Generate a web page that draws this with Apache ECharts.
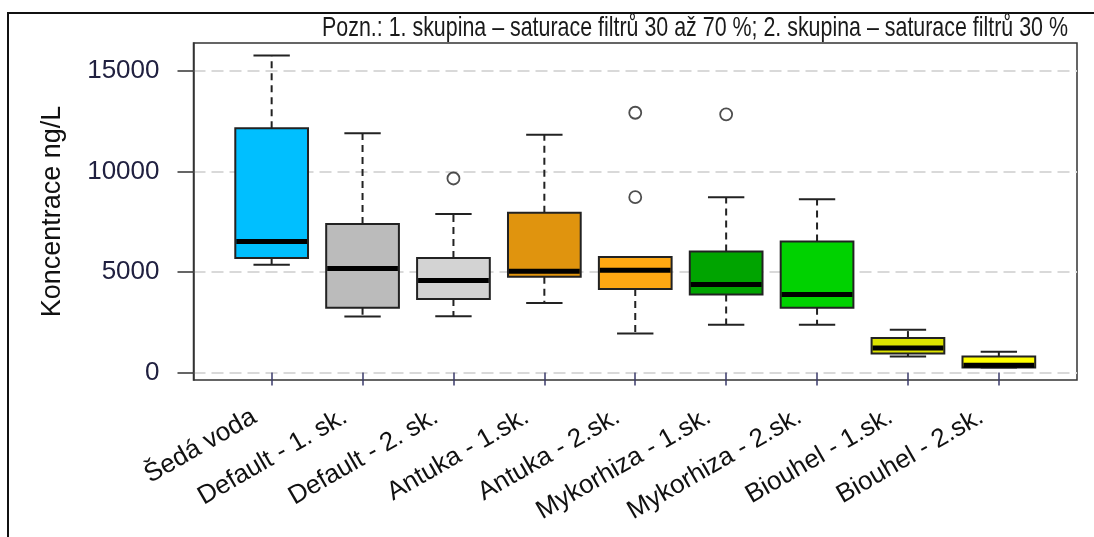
<!DOCTYPE html>
<html><head><meta charset="utf-8">
<script src="https://cdn.jsdelivr.net/npm/echarts@6/dist/echarts.min.js"></script>
<style>html,body{margin:0;padding:0;background:#fff}#c{width:1094px;height:537px}</style>
</head><body><div id="c"></div>
<script>
// ---- data ----
const categories = ['Šedá voda', 'Default - 1. sk.', 'Default - 2. sk.', 'Antuka - 1.sk.', 'Antuka - 2.sk.', 'Mykorhiza - 1.sk.', 'Mykorhiza - 2.sk.', 'Biouhel - 1.sk.', 'Biouhel - 2.sk.'];
const whiskerLow  = [5360, 2790, 2800, 3450, 1940, 2370, 2370, 790, 250];
const q1          = [5690, 3220, 3650, 4760, 4150, 3880, 3220, 940, 250];
const median      = [6520, 5170, 4580, 5030, 5090, 4380, 3880, 1220, 360];
const q3          = [12150, 7380, 5690, 7950, 5740, 6020, 6520, 1710, 800];
const whiskerHigh = [15770, 11900, 7880, 11830, 5740, 8720, 8620, 2120, 1030];
const outlierCategory = [2, 4, 4, 5];
const outlierValue    = [9650, 12920, 8720, 12840];
const yTicks = [0, 5000, 10000, 15000];
const yTitle = 'Koncentrace ng/L';
const note = 'Pozn.: 1. skupina – saturace filtrů 30 až 70 %; 2. skupina – saturace filtrů 30 %';

// ---- styles ----
const boxColors = ['#00BFFF', '#BBBBBB', '#D3D3D3', '#E0940E', '#FFA812', '#00A400', '#00D200', '#DCE300', '#FFFF00'];
const FONT = '"Liberation Sans", Arial, sans-serif';
const Y_MIN = -375, Y_MAX = 16390;

const chart = echarts.init(document.getElementById('c'), null, {renderer: 'canvas'});

const ctx = document.createElement('canvas').getContext('2d');
ctx.font = '28px "Liberation Sans"';
const noteScale = 746 / ctx.measureText(note).width;

function renderBox(params, api) {
  const i = api.value(0);
  const lo = api.coord([i, api.value(1)]);
  const b1 = api.coord([i, api.value(2)]);
  const md = api.coord([i, api.value(3)]);
  const b3 = api.coord([i, api.value(4)]);
  const hi = api.coord([i, api.value(5)]);
  const band = api.size([1, 0])[0];
  const w = band * 0.8, cw = band * 0.4;
  const x = lo[0];
  const dash = {stroke: '#222', lineWidth: 2, lineDash: [7, 5]};
  const solid = {stroke: '#222', lineWidth: 2};
  return {type: 'group', children: [
    {type: 'line', shape: {x1: x, y1: b3[1], x2: x, y2: hi[1]}, style: dash},
    {type: 'line', shape: {x1: x, y1: b1[1], x2: x, y2: lo[1]}, style: dash},
    {type: 'line', shape: {x1: x - cw / 2, y1: hi[1], x2: x + cw / 2, y2: hi[1]}, style: solid},
    {type: 'line', shape: {x1: x - cw / 2, y1: lo[1], x2: x + cw / 2, y2: lo[1]}, style: solid},
    {type: 'rect', shape: {x: x - w / 2, y: b3[1], width: w, height: b1[1] - b3[1]},
     style: {fill: boxColors[i], stroke: '#222', lineWidth: 2}},
    {type: 'line', shape: {x1: x - w / 2 + 1, y1: md[1], x2: x + w / 2 - 1, y2: md[1]},
     style: {stroke: '#000', lineWidth: 5}}
  ]};
}

const option = {
  animation: false,
  backgroundColor: '#fff',
  textStyle: {fontFamily: FONT},
  graphic: [
    {type: 'rect', shape: {x: 8, y: 13, width: 2000, height: 2000},
     style: {fill: 'none', stroke: '#111', lineWidth: 2}, z: 0},
    {type: 'text', x: 1068, y: 28, scaleX: noteScale,
     style: {text: note, fontFamily: '"Liberation Sans"', fontSize: 28, fill: '#1a1a1a',
             align: 'right', verticalAlign: 'middle'}}
  ],
  grid: [
    {left: 193.5, right: 17, top: 43, bottom: 157, show: true, borderColor: '#333', borderWidth: 1.5,
     backgroundColor: 'transparent'},
    {left: 226.2, right: 49.7, top: 43, bottom: 157}
  ],
  xAxis: [
    {gridIndex: 0, type: 'value', min: 0, max: 1, show: false},
    {gridIndex: 1, type: 'category', data: categories,
     axisLine: {show: false},
     axisTick: {show: true, alignWithLabel: true, length: 13, lineStyle: {color: '#3b3b6b', width: 1.5}},
     axisLabel: {rotate: 30, fontSize: 26, color: '#111', margin: 25, padding: [0, 20, 0, 0], interval: 0,
                 fontFamily: FONT},
     splitLine: {show: false}}
  ],
  yAxis: [
    {gridIndex: 0, type: 'value', min: Y_MIN, max: Y_MAX,
     name: yTitle, nameLocation: 'middle', nameGap: 127,
     nameTextStyle: {fontSize: 27, color: '#111', fontFamily: FONT},
     axisLine: {show: true, lineStyle: {color: '#333', width: 1.5}},
     axisTick: {show: true, length: 16, customValues: yTicks, lineStyle: {color: '#333', width: 1.5}},
     axisLabel: {customValues: yTicks, fontSize: 26, color: '#202040', margin: 34, fontFamily: FONT,
                 formatter: v => String(v)},
     splitLine: {show: true, lineStyle: {color: '#d9d9d9', width: 2, type: [12, 6]}}},
    {gridIndex: 1, type: 'value', min: Y_MIN, max: Y_MAX, show: false, splitLine: {show: false}}
  ],
  series: [
    {type: 'custom', xAxisIndex: 1, yAxisIndex: 1, renderItem: renderBox,
     encode: {x: 0, y: [1, 2, 3, 4, 5]},
     data: categories.map((c, i) => [i, whiskerLow[i], q1[i], median[i], q3[i], whiskerHigh[i]]), z: 3},
    {type: 'scatter', xAxisIndex: 1, yAxisIndex: 1, symbol: 'circle', symbolSize: 12,
     itemStyle: {color: '#fff', borderColor: '#222', borderWidth: 1.8},
     data: outlierCategory.map((c, k) => [c, outlierValue[k]]), z: 4}
  ]
};
chart.setOption(option);
</script></body></html>
